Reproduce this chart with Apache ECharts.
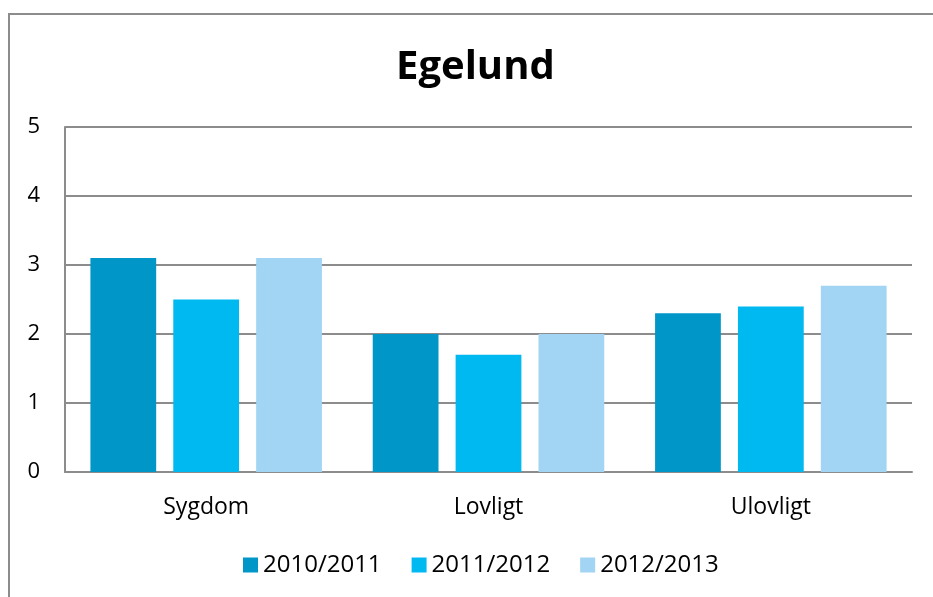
<!DOCTYPE html>
<html>
<head>
<meta charset="utf-8">
<script src="https://cdn.jsdelivr.net/npm/echarts@6/dist/echarts.min.js"></script>
<style>
  html, body { margin: 0; padding: 0; background: #fff; }
  #main { width: 933px; height: 597px; }
</style>
</head>
<body>
<div id="main"></div>
<script>
// data
let categories = ['Sygdom', 'Lovligt', 'Ulovligt'];
let seriesNames = ['2010/2011', '2011/2012', '2012/2013'];
let s2010 = [3.1, 2.0, 2.3];
let s2011 = [2.5, 1.7, 2.4];
let s2012 = [3.1, 2.0, 2.7];
let colors = ['#0097C8', '#00B9F1', '#A2D4F4'];

let myChart = echarts.init(document.getElementById('main'));
let font = '"Open Sans", sans-serif';

let makeBar = function (name, data, color) {
    return {
        name: name,
        type: 'bar',
        data: data,
        barGap: '26%',
        barCategoryGap: '18%',
        itemStyle: { color: color }
    };
};

let option = {
    animation: false,
    textStyle: { fontFamily: font },
    title: {
        text: 'Egelund',
        left: 391,
        top: 43,
        textStyle: { fontSize: 40, fontWeight: 'bold', color: '#000', fontFamily: font }
    },
    graphic: [{
        type: 'rect',
        shape: { x: 9, y: 14, width: 940, height: 600 },
        style: { fill: null, stroke: '#8c8c8c', lineWidth: 2 },
        silent: true
    }],
    legend: {
        data: seriesNames,
        bottom: 15,
        left: 238,
        itemWidth: 15,
        itemHeight: 15,
        itemGap: 30,
        icon: 'rect',
        textStyle: { fontSize: 24, color: '#000', fontFamily: font }
    },
    grid: { left: 65, right: 21, top: 127, bottom: 125 },
    xAxis: {
        type: 'category',
        data: categories,
        axisLine: { lineStyle: { color: '#8c8c8c', width: 2 } },
        axisTick: { show: false },
        axisLabel: { fontSize: 23, color: '#000', margin: 24, fontFamily: font }
    },
    yAxis: {
        type: 'value',
        min: 0,
        max: 5,
        interval: 1,
        axisLine: { show: true, lineStyle: { color: '#8c8c8c', width: 2 } },
        axisTick: { show: false },
        splitLine: { lineStyle: { color: '#8c8c8c', width: 2 } },
        axisLabel: { fontSize: 22, color: '#000', margin: 25, fontFamily: font }
    },
    series: [
        makeBar(seriesNames[0], s2010, colors[0]),
        makeBar(seriesNames[1], s2011, colors[1]),
        makeBar(seriesNames[2], s2012, colors[2])
    ]
};

myChart.setOption(option);
</script>
</body>
</html>
